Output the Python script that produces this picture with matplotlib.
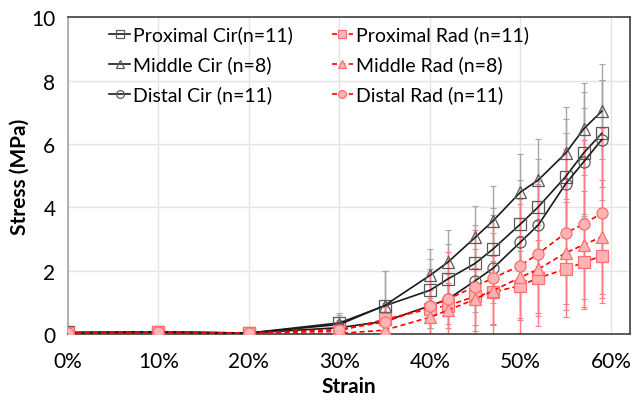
import matplotlib

matplotlib.use("Agg")

import matplotlib.pyplot as plt
from matplotlib.ticker import FuncFormatter

plt.rcParams["font.family"] = ["Lato", "DejaVu Sans"]

strain = [0.0, 0.10, 0.20, 0.30, 0.35, 0.40, 0.42, 0.45, 0.47, 0.50, 0.52, 0.55, 0.57, 0.59]

prox_cir = [0.05, 0.07, 0.03, 0.35, 0.89, 1.38, 1.74, 2.23, 2.69, 3.47, 4.02, 4.97, 5.72, 6.34]
mid_cir = [0.04, 0.06, 0.03, 0.30, 0.90, 1.85, 2.27, 3.05, 3.58, 4.48, 4.87, 5.71, 6.48, 7.04]
dist_cir = [0.04, 0.05, 0.03, 0.20, 0.40, 0.89, 1.10, 1.68, 2.08, 2.90, 3.45, 4.74, 5.44, 6.14]
prox_rad = [0.04, 0.06, 0.02, 0.10, 0.46, 0.80, 0.90, 1.19, 1.32, 1.53, 1.77, 2.05, 2.26, 2.47]
mid_rad = [0.03, 0.05, 0.02, 0.02, 0.12, 0.53, 0.75, 1.10, 1.37, 1.79, 2.05, 2.56, 2.82, 3.07]
dist_rad = [0.04, 0.05, 0.03, 0.14, 0.38, 0.88, 1.10, 1.50, 1.77, 2.16, 2.54, 3.19, 3.47, 3.82]

prox_cir_sd = [0.03, 0.05, 0.02, 0.30, 1.10, 1.00, 1.10, 1.20, 1.30, 1.40, 1.50, 1.82, 1.92, 1.70]
mid_cir_sd = [0.03, 0.04, 0.02, 0.30, 1.10, 0.83, 1.00, 1.00, 1.10, 1.20, 1.30, 1.45, 1.45, 1.50]
dist_cir_sd = [0.03, 0.04, 0.02, 0.20, 0.50, 0.70, 0.80, 1.00, 1.10, 1.20, 1.30, 1.60, 1.70, 1.90]
prox_rad_sd = [0.02, 0.03, 0.02, 0.15, 0.40, 0.60, 0.70, 0.90, 1.00, 1.10, 1.20, 1.30, 1.40, 1.50]
mid_rad_sd = [0.02, 0.03, 0.02, 0.10, 0.30, 0.60, 0.80, 1.00, 1.10, 1.30, 1.40, 1.60, 1.70, 1.80]
dist_rad_sd = [0.03, 0.04, 0.02, 0.30, 0.60, 1.18, 1.50, 1.80, 2.00, 2.12, 2.30, 2.65, 2.67, 2.68]

labels = [
    "Proximal Cir(n=11)",
    "Middle Cir (n=8)",
    "Distal Cir (n=11)",
    "Proximal Rad (n=11)",
    "Middle Rad (n=8)",
    "Distal Rad (n=11)",
]

fig = plt.figure(figsize=(6.33, 4.02), dpi=100)
ax = fig.add_axes([0.1074, 0.1667, 0.8876, 0.7873])

series = [
    (prox_cir, prox_cir_sd, "s", "cir", labels[0]),
    (prox_rad, prox_rad_sd, "s", "rad", labels[3]),
    (mid_cir, mid_cir_sd, "^", "cir", labels[1]),
    (mid_rad, mid_rad_sd, "^", "rad", labels[4]),
    (dist_cir, dist_cir_sd, "o", "cir", labels[2]),
    (dist_rad, dist_rad_sd, "o", "rad", labels[5]),
]

# error bars first so the lines sit on top
for values, sd, marker, kind, label in series:
    ecolor = "#a6a6a6" if kind == "cir" else "#ff7c80"
    ax.errorbar(strain, values, yerr=sd, fmt="none", ecolor=ecolor,
                elinewidth=1.0, capsize=2.5, capthick=0.8, zorder=2)

handles = {}
for values, sd, marker, kind, label in series:
    if kind == "cir":
        (h,) = ax.plot(strain, values, color="#1a1a1a", linewidth=1.2, linestyle="-",
                       marker=marker, markersize=8, markerfacecolor="none",
                       markeredgecolor="#595959", markeredgewidth=0.9, zorder=3, label=label)
    else:
        (h,) = ax.plot(strain, values, color="#ff0000", linewidth=1.2, linestyle=(0, (3, 2)),
                       marker=marker, markersize=8, markerfacecolor="#ffb3b3",
                       markeredgecolor="#ff6f6f", markeredgewidth=0.9, zorder=4, label=label)
    handles[label] = h

ax.set_xlim(0, 0.621)
ax.set_ylim(0, 10)
ax.set_xticks([0, 0.1, 0.2, 0.3, 0.4, 0.5, 0.6])
ax.set_yticks([0, 2, 4, 6, 8, 10])
ax.xaxis.set_major_formatter(FuncFormatter(lambda v, p: f"{v * 100:.0f}%"))
ax.tick_params(axis="both", length=0, labelsize=15)
ax.tick_params(axis="x", pad=12)
ax.tick_params(axis="y", pad=9)
ax.grid(True, color="#e3e3e3", linewidth=1.0)
ax.set_axisbelow(True)

for side in ["top", "right", "bottom"]:
    ax.spines[side].set_color("#404040")
    ax.spines[side].set_linewidth(1.2)
ax.spines["left"].set_color("#a6a6a6")
ax.spines["left"].set_linewidth(1.2)

ax.set_xlabel("Strain", fontsize=15, fontweight="bold", labelpad=4)
ax.set_ylabel("Stress (MPa)", fontsize=15, fontweight="bold", labelpad=1)

ax.legend([handles[l] for l in labels], labels, ncol=2, loc="upper left",
          bbox_to_anchor=(0.042, 1.03), frameon=False, fontsize=14,
          handlelength=1.08, handletextpad=0.15, columnspacing=2.0,
          labelspacing=0.62, markerscale=0.7)

fig.savefig("out.png", dpi=100)
